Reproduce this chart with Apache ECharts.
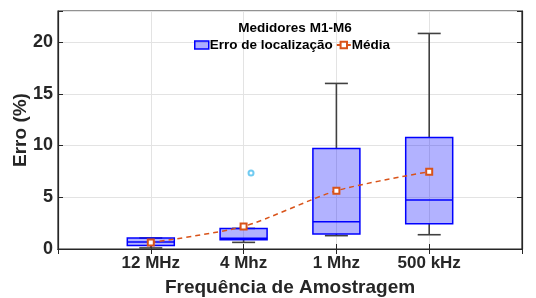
<!DOCTYPE html>
<html><head><meta charset="utf-8">
<script src="https://cdn.jsdelivr.net/npm/echarts@6/dist/echarts.min.js"></script>
<style>html,body{margin:0;padding:0;background:#fff}#c{width:536px;height:298px}</style>
</head><body><div id="c"></div>
<script>
var categories = ['', '12 MHz', '4 Mhz', '1 Mhz', '500 kHz', ''];
var boxPos = [1, 2, 3, 4];
var whiskerLow = [0.10, 0.64, 1.29, 1.38];
var q1 = [0.35, 0.90, 1.45, 2.44];
var median = [0.68, 1.05, 2.64, 4.73];
var q3 = [1.06, 1.99, 9.72, 10.78];
var whiskerHigh = [1.06, 1.99, 16.0, 20.83];
var meanVals = [0.62, 2.18, 5.63, 7.47];
var outliers = [[2.08, 7.34]];
var yTicks = [0, 5, 10, 15, 20];

var boxData = boxPos.map(function (p, i) {
  return [p, whiskerLow[i], q1[i], median[i], q3[i], whiskerHigh[i]];
});
var meanData = boxPos.map(function (p, i) { return [p, meanVals[i]]; });

var txt = '#262626';
var chart = echarts.init(document.getElementById('c'), null, {renderer: 'canvas'});
chart.setOption({
  animation: false,
  backgroundColor: '#fff',
  textStyle: {fontFamily: 'Liberation Sans, Arial, sans-serif'},
  title: {
    text: 'Medidores M1-M6', left: 290, top: 16, textAlign: 'center',
    textStyle: {fontSize: 13.5, fontWeight: 'bold', color: '#000', fontFamily: 'Liberation Sans'}
  },
  legend: {
    left: 189, top: 33, itemWidth: 14, itemHeight: 8, itemGap: 3,
    textStyle: {fontSize: 13.5, fontWeight: 'bold', color: '#000', fontFamily: 'Liberation Sans', padding: [0, 0, 0, -4]},
    data: [
      {name: 'Erro de localização', icon: 'rect',
       itemStyle: {color: 'rgba(0,0,255,0.32)', borderColor: '#0000ff', borderWidth: 1.5}},
      {name: 'Média'}
    ]
  },
  grid: {left: 58, right: 14, top: 11, bottom: 49, show: true, borderColor: txt, borderWidth: 1.2,
         containLabel: false, outerBoundsMode: 'none'},
  xAxis: [
    {type: 'category', data: categories, boundaryGap: false,
     axisLine: {lineStyle: {color: txt, width: 1.2}},
     axisTick: {inside: true, length: 5, lineStyle: {color: txt}},
     axisLabel: {color: txt, fontSize: 17, fontWeight: 'bold', margin: 6, fontFamily: 'Liberation Sans', interval: 0},
     splitLine: {show: true, lineStyle: {color: '#e3e3e3', width: 1}},
     name: 'Frequência de Amostragem', nameLocation: 'middle', nameGap: 29, nameMoveOverlap: false,
     nameTextStyle: {color: txt, fontSize: 19, fontWeight: 'bold', fontFamily: 'Liberation Sans'}},
    {type: 'category', data: categories, boundaryGap: false, position: 'top',
     axisLine: {lineStyle: {color: txt, width: 1.2}},
     axisTick: {inside: true, length: 5, lineStyle: {color: txt}},
     axisLabel: {show: false}, splitLine: {show: false}},
    {type: 'value', min: 0, max: 5, show: false}
  ],
  yAxis: [
    {type: 'value', min: 0, max: 23, interval: 5,
     axisLine: {show: true, lineStyle: {color: txt, width: 1.2}},
     axisTick: {show: true, inside: true, length: 5, lineStyle: {color: txt}},
     axisLabel: {color: txt, fontSize: 18, fontWeight: 'bold', margin: 5, fontFamily: 'Liberation Sans',
       formatter: function (v) { return yTicks.indexOf(v) >= 0 ? String(v) : ''; }},
     splitLine: {show: true, lineStyle: {color: '#e3e3e3', width: 1}},
     name: 'Erro (%)', nameLocation: 'middle', nameGap: 28, nameRotate: 90, nameMoveOverlap: false,
     nameTextStyle: {color: txt, fontSize: 19, fontWeight: 'bold', fontFamily: 'Liberation Sans'}},
    {type: 'value', min: 0, max: 23, interval: 5, position: 'right',
     axisLine: {show: true, lineStyle: {color: txt, width: 1.2}},
     axisTick: {show: true, inside: true, length: 5, lineStyle: {color: txt}},
     axisLabel: {show: false}, splitLine: {show: false}}
  ],
  series: [
    {
      name: 'Erro de localização', type: 'custom', xAxisIndex: 0, yAxisIndex: 0,
      data: boxData, z: 3,
      encode: {x: 0, y: [1, 2, 3, 4, 5]},
      renderItem: function (params, api) {
        var x = api.value(0);
        var pLow = api.coord([x, api.value(1)]);
        var pQ1 = api.coord([x, api.value(2)]);
        var pMed = api.coord([x, api.value(3)]);
        var pQ3 = api.coord([x, api.value(4)]);
        var pHigh = api.coord([x, api.value(5)]);
        var cx = pQ1[0], hw = 23.5, cw = 11.5;
        var gray = {stroke: '#404040', lineWidth: 1.6};
        return {type: 'group', children: [
          {type: 'line', shape: {x1: cx, y1: pQ3[1], x2: cx, y2: pHigh[1]}, style: gray},
          {type: 'line', shape: {x1: cx, y1: pQ1[1], x2: cx, y2: pLow[1]}, style: gray},
          {type: 'line', shape: {x1: cx - cw, y1: pHigh[1], x2: cx + cw, y2: pHigh[1]}, style: gray},
          {type: 'line', shape: {x1: cx - cw, y1: pLow[1], x2: cx + cw, y2: pLow[1]}, style: gray},
          {type: 'rect', shape: {x: cx - hw, y: pQ3[1], width: 2 * hw, height: pQ1[1] - pQ3[1]},
           style: {fill: 'rgba(0,0,255,0.3)', stroke: '#0000ff', lineWidth: 1.5}},
          {type: 'line', shape: {x1: cx - hw, y1: pMed[1], x2: cx + hw, y2: pMed[1]},
           style: {stroke: '#0000ff', lineWidth: 1.5}}
        ]};
      }
    },
    {
      name: 'Média', type: 'line', xAxisIndex: 0, yAxisIndex: 0, data: meanData, z: 5,
      smooth: 0.25, symbol: 'emptyRect', symbolSize: 6,
      lineStyle: {color: '#D95319', width: 1.5, type: [5, 4]},
      itemStyle: {color: '#D95319', borderColor: '#D95319', borderWidth: 1.2}
    },
    {
      name: 'outlier', type: 'scatter', xAxisIndex: 2, yAxisIndex: 0, data: outliers, z: 4,
      symbol: 'emptyCircle', symbolSize: 5,
      itemStyle: {color: '#4DBEEE', borderColor: '#4DBEEE', borderWidth: 1}
    }
  ]
});
</script></body></html>
